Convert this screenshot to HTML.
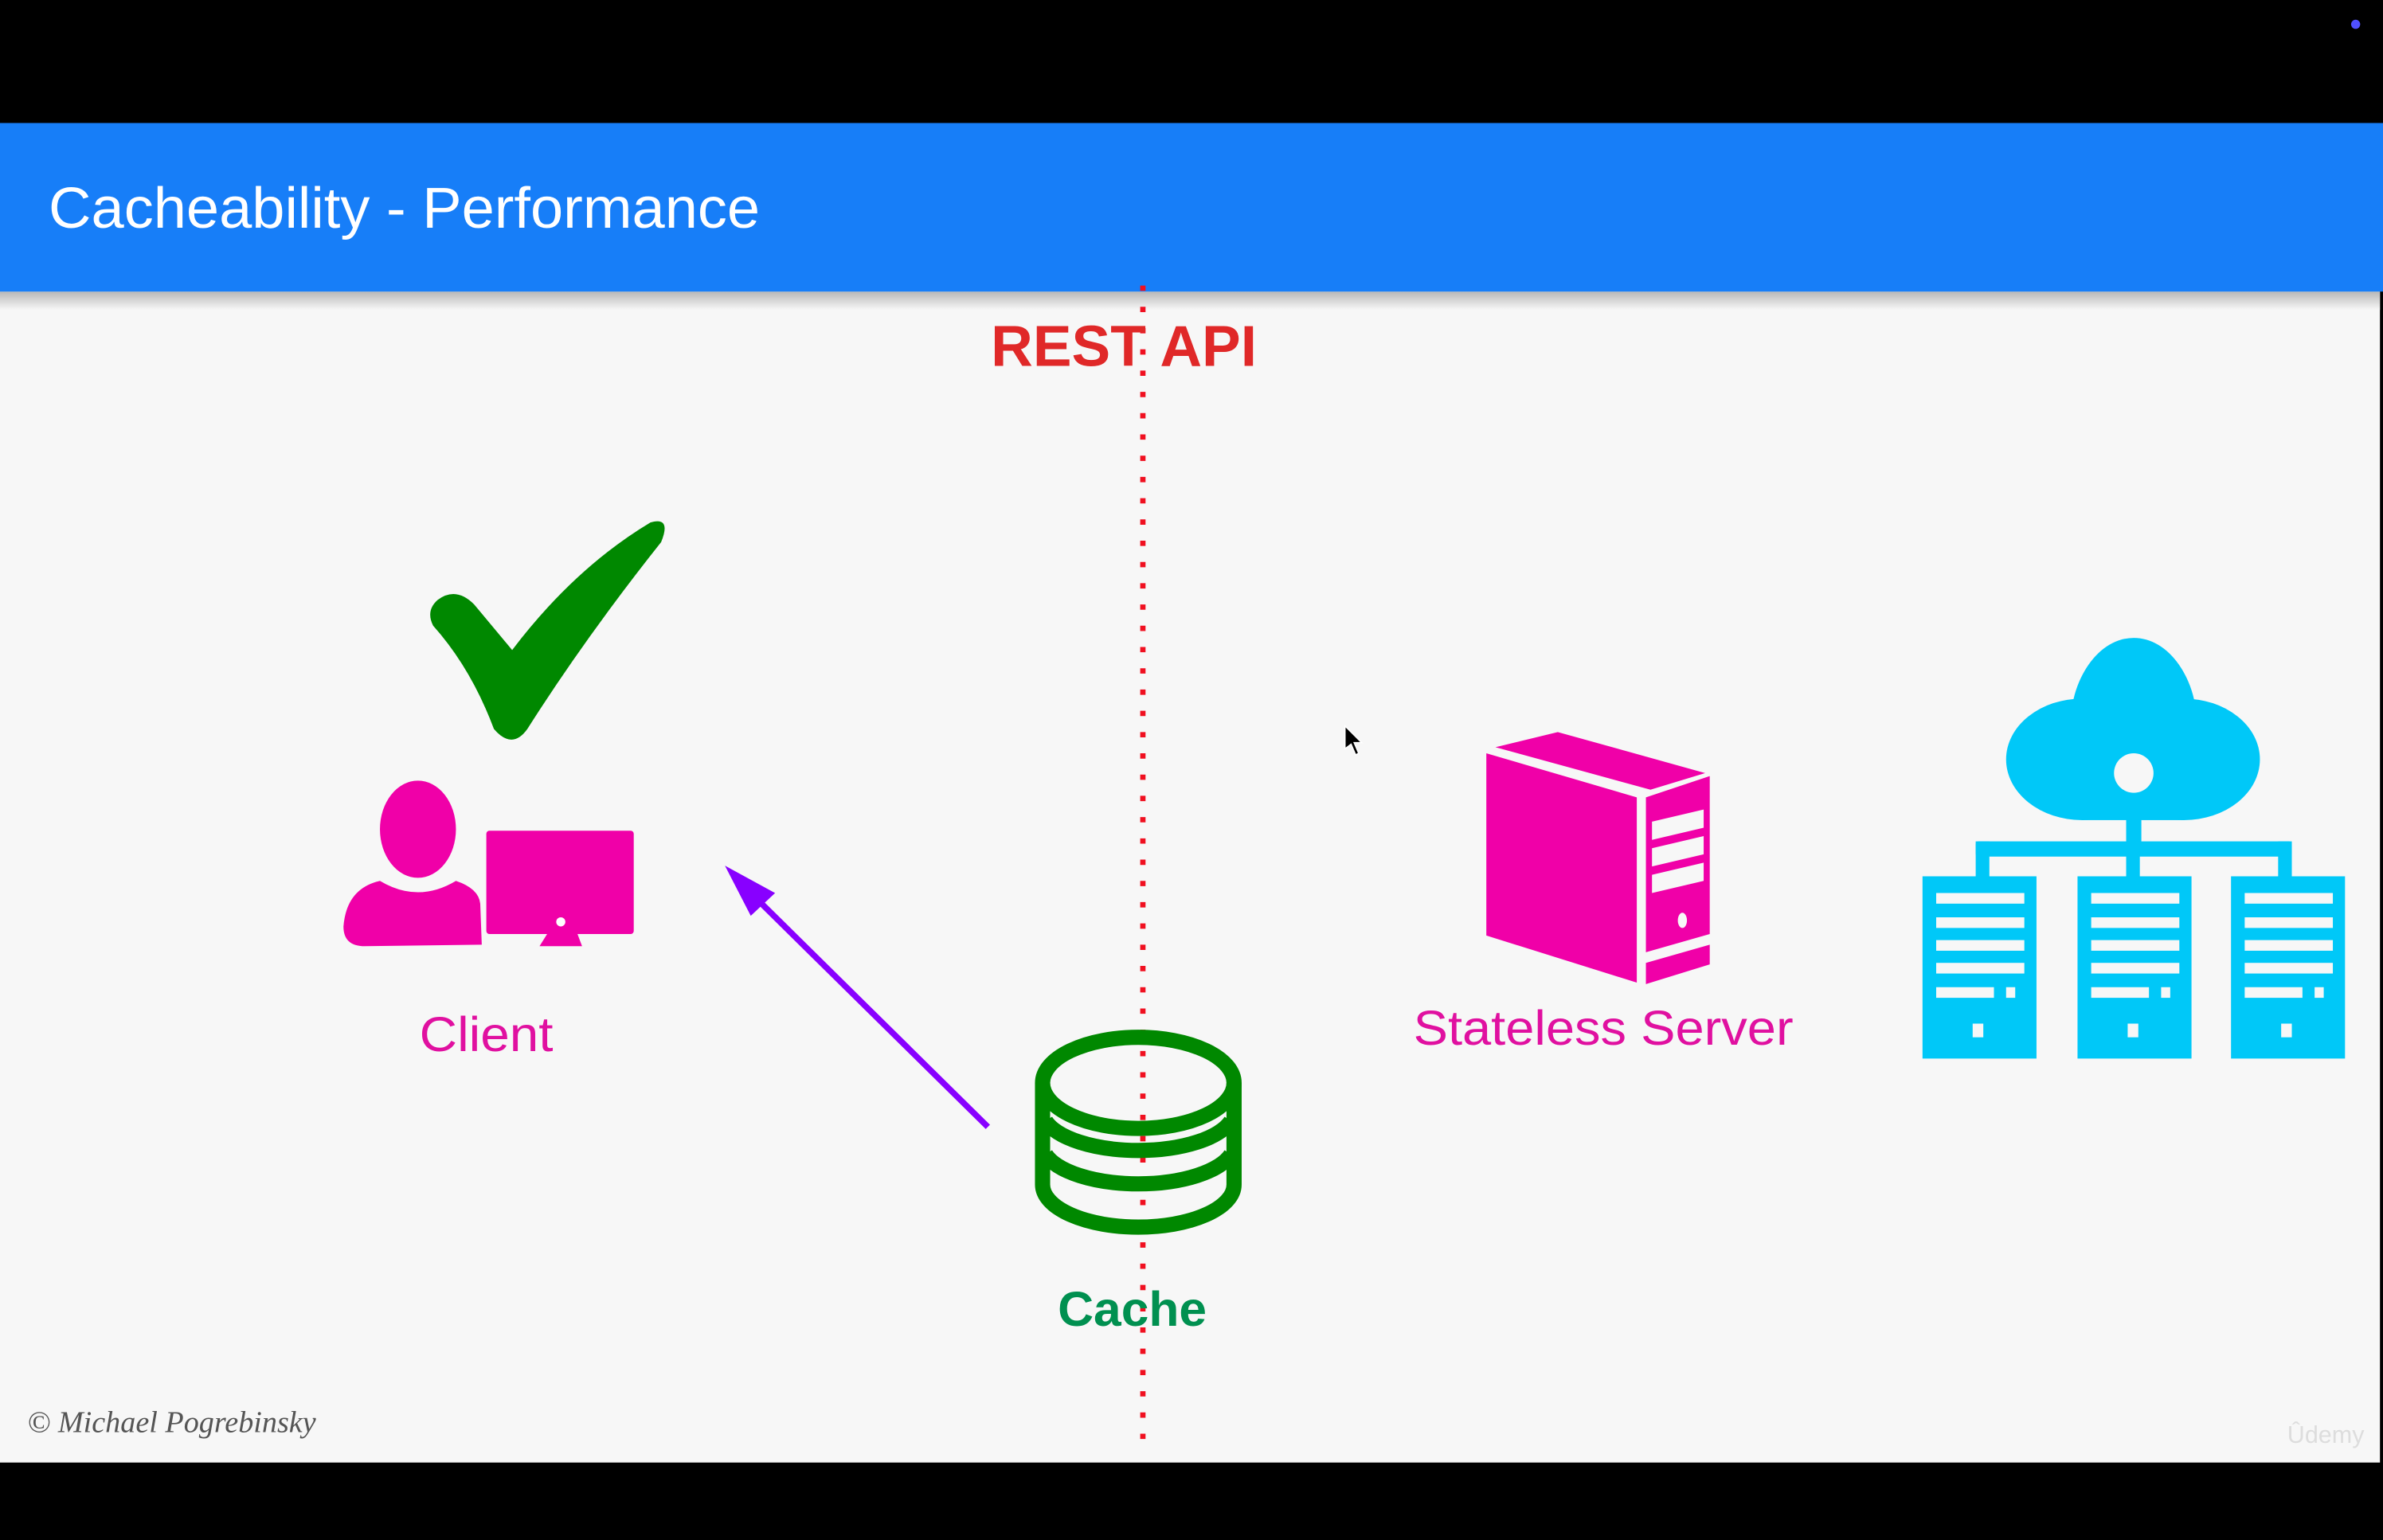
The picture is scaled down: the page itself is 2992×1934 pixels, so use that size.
<!DOCTYPE html>
<html><head><style>
html,body{margin:0;padding:0;background:#000;}
svg{display:block;}
</style></head><body>
<svg width="2992" height="1934" viewBox="0 0 1568 1014" preserveAspectRatio="none" xmlns="http://www.w3.org/2000/svg">
<defs>
<linearGradient id="sh" x1="0" y1="0" x2="0" y2="1">
<stop offset="0" stop-color="#b8b8b8"/><stop offset="1" stop-color="#f7f7f7"/>
</linearGradient>
</defs>
<rect x="0" y="0" width="1568" height="1014" fill="#000"/>
<rect x="0" y="81" width="1566" height="882" fill="#f7f7f7"/>
<rect x="0" y="192" width="1566" height="12" fill="url(#sh)"/>
<rect x="0" y="81" width="1568" height="111" fill="#177ef8"/>
<circle cx="1550" cy="16" r="3" fill="#5050ff"/>
<text x="32" y="150" font-family="Liberation Sans, sans-serif" font-size="38" fill="#fff" textLength="468" lengthAdjust="spacingAndGlyphs">Cacheability - Performance</text>

<line x1="752" y1="188" x2="752" y2="955" stroke="#f01020" stroke-width="3.5" stroke-dasharray="3.5 10.5"/>
<text x="652" y="241" font-family="Liberation Sans, sans-serif" font-size="38" font-weight="bold" fill="#e02828" textLength="175" lengthAdjust="spacingAndGlyphs">REST API</text>

<!-- checkmark -->
<path d="M288 395 Q300 386 312 398 L337 428 Q378 374 428 344 Q442 340 435 357 Q385 420 347 480 Q337 494 325 480 Q310 440 285 412 Q280 402 288 395 Z" fill="#008800"/>

<!-- client -->
<g fill="#f000a8">
<ellipse cx="275" cy="546" rx="25" ry="32"/>
<path d="M250 580 Q275 595 300 580 Q315 585 316 595 L317 622 L240 623 Q226 623 226 610 Q228 585 250 580 Z"/>
<rect x="320" y="547" width="97" height="68" rx="2"/>
<path d="M360 615 L380 615 L383 623 L355 623 Z"/>
</g>
<circle cx="369" cy="607" r="3" fill="#fff"/>
<text x="320" y="692" text-anchor="middle" font-family="Liberation Sans, sans-serif" font-size="32" fill="#e010a0" textLength="88" lengthAdjust="spacingAndGlyphs">Client</text>

<!-- arrow -->
<line x1="650" y1="742" x2="492" y2="586" stroke="#8800ff" stroke-width="4"/>
<path d="M477 570 L510 588 L494 603 Z" fill="#8800ff"/>

<!-- cache -->
<g fill="none" stroke="#008800" stroke-width="10">
<ellipse cx="749" cy="713" rx="63" ry="30"/>
<path d="M686 713 L686 780 A63 28 0 0 0 812 780 L812 713"/>
<path d="M688 738 A63 26 0 0 0 810 738"/>
<path d="M688 760 A63 26 0 0 0 810 760"/>
</g>
<text x="745" y="873" text-anchor="middle" font-family="Liberation Sans, sans-serif" font-size="32" font-weight="bold" fill="#009050" textLength="98" lengthAdjust="spacingAndGlyphs">Cache</text>

<!-- server -->
<g fill="#f000a8">
<path d="M984 492 L1025 482 L1122 509 L1086 520 Z"/>
<path d="M978 496 L1077 525 L1077 647 L978 616 Z"/>
<path d="M1083 525 L1125 511 L1125 615 L1083 627 Z"/>
<path d="M1083 634 L1125 622 L1125 635 L1083 648 Z"/>
</g>
<g fill="#f7f7f7">
<path d="M1087 541 L1121 533 L1121 545 L1087 553 Z"/>
<path d="M1087 558.5 L1121 550.5 L1121 562.5 L1087 570.5 Z"/>
<path d="M1087 576 L1121 568 L1121 580 L1087 588 Z"/>
<ellipse cx="1107" cy="606" rx="3" ry="5"/>
</g>
<text x="1055" y="688" text-anchor="middle" font-family="Liberation Sans, sans-serif" font-size="32" fill="#e010a0" textLength="250" lengthAdjust="spacingAndGlyphs">Stateless Server</text>

<!-- cloud network -->
<g fill="#00c8f8">
<ellipse cx="1404" cy="480" rx="42" ry="60"/>
<ellipse cx="1370" cy="500" rx="50" ry="40"/>
<ellipse cx="1437" cy="500" rx="50" ry="40"/>
<rect x="1370" y="500" width="67" height="40"/>
<rect x="1399" y="535" width="10" height="24"/>
<rect x="1300" y="554" width="208" height="10" rx="2"/>
<rect x="1300" y="554" width="9" height="25"/>
<rect x="1399" y="554" width="9" height="25"/>
<rect x="1499" y="554" width="9" height="25"/>
<rect x="1265" y="577" width="75" height="120"/>
<rect x="1367" y="577" width="75" height="120"/>
<rect x="1468" y="577" width="75" height="120"/>
</g>
<ellipse cx="1404" cy="509" rx="13" ry="13" fill="#f7f7f7"/>
<g fill="#f7f7f7">
<g id="slots">
<rect x="1274" y="588" width="58" height="7"/>
<rect x="1274" y="604" width="58" height="7"/>
<rect x="1274" y="619" width="58" height="7"/>
<rect x="1274" y="634" width="58" height="7"/>
<rect x="1274" y="650" width="38" height="7"/>
<rect x="1320" y="650" width="6" height="7"/>
<rect x="1298" y="674" width="7" height="9"/>
</g>
<use href="#slots" x="102"/>
<use href="#slots" x="203"/>
</g>

<!-- cursor -->
<path d="M885 478 L885 493 L889 490 L892 497 L894 496 L891 489 L896 489 Z" fill="#000" stroke="#fff" stroke-width="0.8"/>

<text x="18" y="943" font-family="Liberation Serif, serif" font-style="italic" font-size="20" fill="#555">© Michael Pogrebinsky</text>
<text x="1505" y="950" font-family="Liberation Sans, sans-serif" font-size="16" fill="#ddd">Ûdemy</text>
</svg>
</body></html>
